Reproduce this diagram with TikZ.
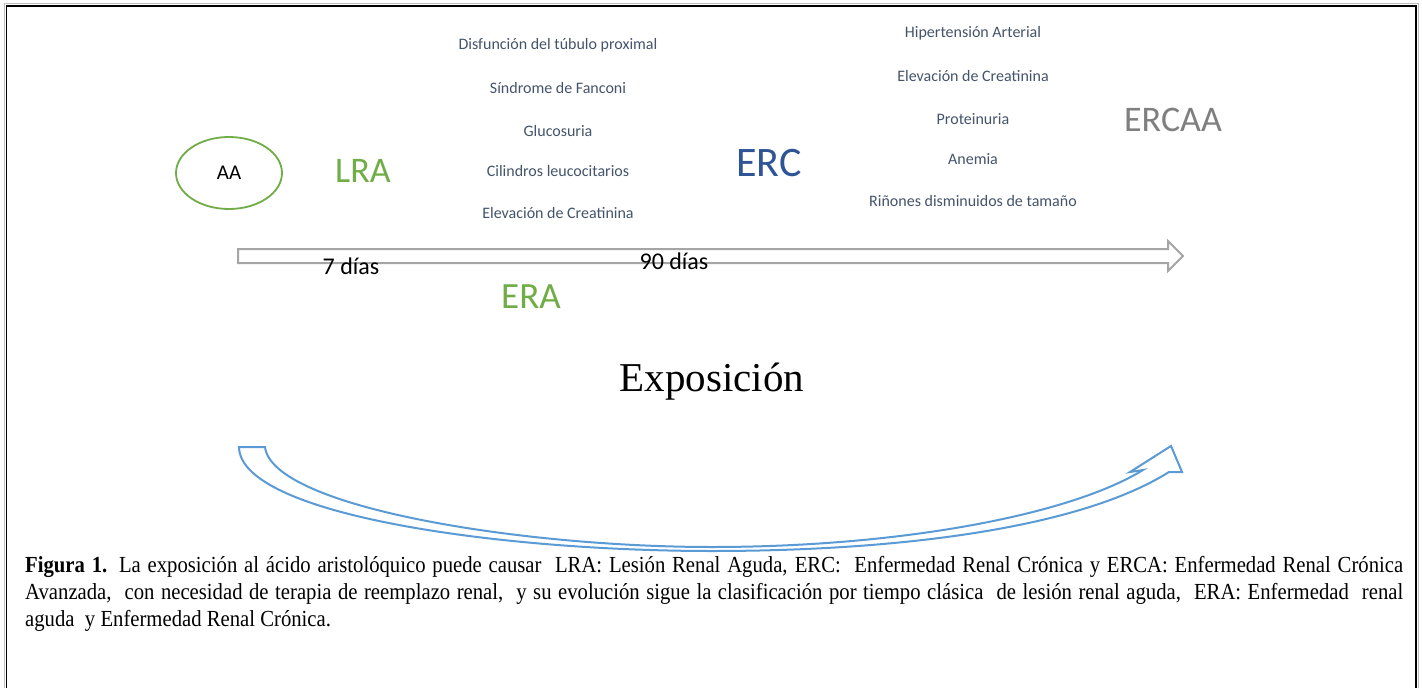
\documentclass[tikz,border=0pt]{standalone}
\usepackage{fontspec}
\usepackage{graphicx}
\setmainfont{Liberation Serif}
\newfontfamily\calfont{Carlito}
\usetikzlibrary{shapes.geometric}
\definecolor{ogreen}{HTML}{70AD47}
\definecolor{oblue}{HTML}{2F5597}
\definecolor{ogray}{HTML}{7F7F7F}
\definecolor{slate}{HTML}{44546A}
\definecolor{arrgray}{HTML}{A5A5A5}
\definecolor{skyblue}{HTML}{5B9BD5}
\tikzset{
  sym/.style={inner sep=0pt, text=slate, font=\calfont\fontsize{16}{18}\selectfont},
  stage/.style={inner sep=0pt, font=\calfont\fontsize{#1}{#1}\selectfont},
  days/.style={inner sep=0pt, text=black, font=\calfont\fontsize{24}{26}\selectfont},
  capline/.style={inner sep=0pt, anchor=base west, font=\fontsize{23}{26}\selectfont},
}
\begin{document}
\begin{tikzpicture}[x=1pt,y=-1pt]
\useasboundingbox (0,0) rectangle (1422,688);
\fill[white] (0,0) rectangle (1422,688);
% frame
\draw[black!25, line width=1pt] (4.5,688) -- (4.5,3.8) -- (1418,3.8) -- (1418,688);
\draw[black, line width=1.8pt] (6.5,688) -- (6.5,5.8) -- (1416,5.8) -- (1416,688);

% AA ellipse
\node[ellipse, draw=ogreen, line width=1.8pt, minimum width=106pt, minimum height=72pt, inner sep=0pt,
      font=\calfont\fontsize{21}{22}\selectfont] (aa) at (229,173) {AA};

\node[stage=36, text=ogreen] (lra) at (363,171) {LRA};
\node[stage=42, text=oblue] (erc) at (769,163) {ERC};
\node[stage=36, text=ogray] (ercaa) at (1173,120) {ERCAA};
\node[stage=37, text=ogreen] (era) at (531,297) {ERA};

% symptoms left
\node[sym] (s1) at (558,45) {Disfunción del túbulo proximal};
\node[sym] (s2) at (558,88) {Síndrome de Fanconi};
\node[sym] (s3) at (558,131) {Glucosuria};
\node[sym] (s4) at (558,171) {Cilindros leucocitarios};
\node[sym] (s5) at (558,213) {Elevación de Creatinina};
% symptoms right
\node[sym] (r1) at (973,33) {Hipertensión Arterial};
\node[sym] (r2) at (973,76) {Elevación de Creatinina};
\node[sym] (r3) at (973,119) {Proteinuria};
\node[sym] (r4) at (973,159) {Anemia};
\node[sym] (r5) at (973,201) {Riñones disminuidos de tamaño};

% block arrow (timeline)
\draw[arrgray, line width=2pt, line join=miter]
  (238,249) -- (1168,249) -- (1168,241) -- (1183,256) -- (1168,271) -- (1168,263) -- (238,263) -- cycle;
\node[days] (d7) at (351,266) {7 días};
\node[days] (d90) at (674,261) {90 días};

% Exposicion
\node[inner sep=0pt, font=\fontsize{41}{44}\selectfont] (expo) at (712,382) {Exposición};

% curved arrow
\draw[skyblue, line width=2pt, line join=miter]
  (239,447) -- (265,447)
  .. controls (272,507) and (520,547) .. (712,547)
  .. controls (900,547) and (1070,515) .. (1143,470)
  -- (1130,472) -- (1171,446) -- (1182,472) -- (1169,472)
  .. controls (1080,528) and (900,551) .. (712,551)
  .. controls (500,551) and (240,515) .. (239,447) -- cycle;

% caption
\node[capline] (c1) at (25,572) {\scalebox{0.9}[1]{\makebox[1531pt][s]{\textbf{Figura 1.} La exposición al ácido aristolóquico puede causar\ \ LRA: Lesión Renal Aguda, ERC:\ \ Enfermedad Renal Crónica y ERCA: Enfermedad Renal Crónica}}};
\node[capline] (c2) at (25,599) {\scalebox{0.9}[1]{\makebox[1531pt][s]{Avanzada,\ \ con necesidad de terapia de reemplazo renal,\ \ y su evolución sigue la clasificación por tiempo clásica\ \ de lesión renal aguda,\ \ ERA: Enfermedad\ \ renal}}};
\node[capline] (c3) at (25,626) {\scalebox{0.9}[1]{aguda\ \ y Enfermedad Renal Crónica.}};
\end{tikzpicture}
\end{document}
